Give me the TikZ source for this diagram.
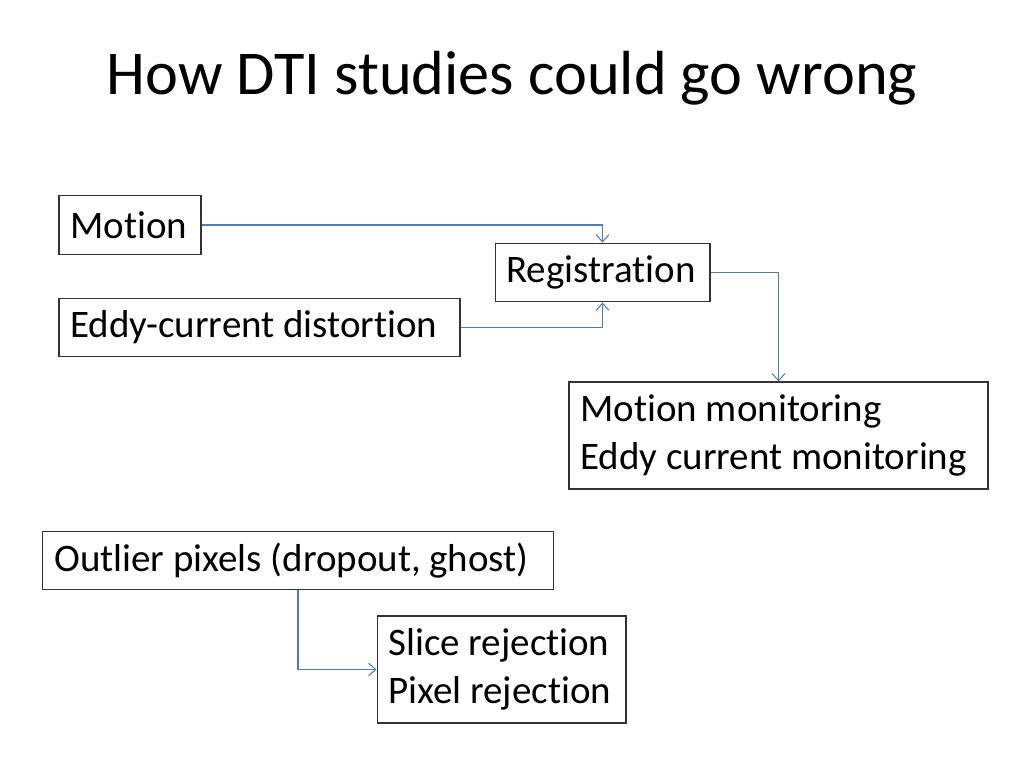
\documentclass[tikz,border=0pt]{standalone}
\usepackage{fontspec}
\setmainfont[Ligatures=CommonOff]{Carlito}
\usetikzlibrary{arrows.meta}

\definecolor{linkblue}{HTML}{4A7EBB}
\tikzset{
  box/.style={draw=black!80,line width=0.75pt,align=flush left,inner xsep=8pt,inner ysep=0pt,
    font=\fontsize{27.5}{34}\selectfont},
  link/.style={draw=linkblue,line width=0.75pt,-{Straight Barb[length=5pt,width=9pt]}}
}

\begin{document}
\begin{tikzpicture}[x=0.70576pt,y=-0.70576pt]
  \useasboundingbox (0,0) rectangle (1024,768);

  \node[font=\fontsize{44}{52}\selectfont] (title) at (512,78) {How DTI studies could go wrong};

  \node[box,text width=84.2pt,minimum height=41.5pt] (motion) at (130,225) {Motion};
  \node[box,text width=135.7pt,minimum height=41.5pt] (reg) at (602.5,272.5) {Registration};
  \node[box,text width=267pt,minimum height=41.5pt] (eddy) at (259.5,327.5) {Eddy-current distortion};
  \node[box,text width=279.7pt,minimum height=75.5pt] (monitor) at (778.5,435.5)
    {Motion monitoring\\Eddy current monitoring};

  \node[box,text width=344pt,minimum height=41.5pt] (outlier) at (298,560.5) {Outlier pixels (dropout, ghost)};
  \node[box,text width=159.7pt,minimum height=75.5pt] (reject) at (501.5,669.5)
    {Slice rejection\\Pixel rejection};

  % into registration
  \draw[link] (motion.east) -| (reg.north);
  \draw[link] (eddy.east) -| (reg.south);
  \draw[link] (reg.east) -| (monitor.north);

  \draw[link] (outlier.south) |- (reject.west);

\end{tikzpicture}
\end{document}
